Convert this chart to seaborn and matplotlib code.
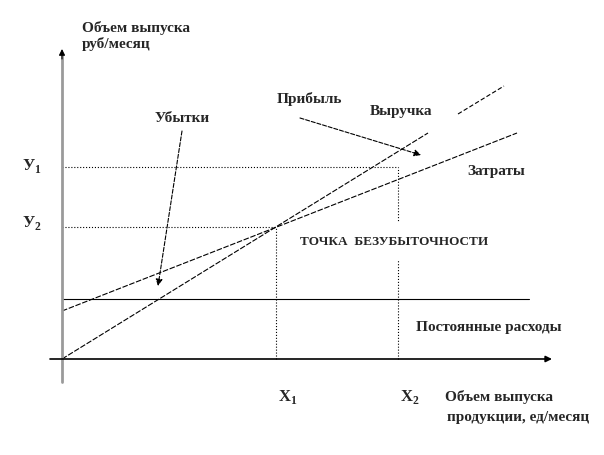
import matplotlib
matplotlib.use("Agg")
import matplotlib.pyplot as plt
import seaborn as sns
import pandas as pd

# break-even chart, units = picture pixels measured from the origin
revenue_x = [0, 366]
revenue_y = [0, 226]
revenue_tail_x = [396, 442]
revenue_tail_y = [245, 273]
costs_x = [0, 455]
costs_y = [48, 226]
fixed_x = [0, 467]
fixed_y = [60, 60]
x1, x2 = 214, 336
y1, y2 = 192, 132

sns.set_style("white")
plt.rcParams["font.family"] = ["Liberation Serif", "DejaVu Serif"]
plt.rcParams["font.weight"] = "bold"
plt.rcParams["mathtext.fontset"] = "custom"
plt.rcParams["mathtext.rm"] = "Liberation Serif:bold"
plt.rcParams["mathtext.bf"] = "Liberation Serif:bold"

fig = plt.figure(figsize=(6.04, 4.56), dpi=100)
ax = fig.add_axes([0, 0, 1, 1])
ax.set_xlim(-62, 542)
ax.set_ylim(-96, 360)
ax.axis("off")

df = pd.DataFrame({
    "x": revenue_x + costs_x + fixed_x,
    "y": revenue_y + costs_y + fixed_y,
    "line": ["Выручка"] * 2 + ["Затраты"] * 2 + ["Постоянные"] * 2,
})
sns.lineplot(data=df, x="x", y="y", hue="line", style="line",
             palette=["black"] * 3, dashes=[(5, 1.5), (5, 1.5), ""],
             linewidth=0.8, legend=False, ax=ax, estimator=None)
ax.plot(revenue_tail_x, revenue_tail_y, color="black", lw=0.8, dashes=(4, 2))

# axes with arrows
ax.annotate("", xy=(490, 0), xytext=(-12, 0),
            arrowprops=dict(arrowstyle="-|>", color="black", lw=1.2,
                            mutation_scale=9, shrinkA=0, shrinkB=0))
ax.plot([0, 0], [-23, 305], color="#9a9a9a", lw=2)
ax.annotate("", xy=(0, 310), xytext=(0, 300),
            arrowprops=dict(arrowstyle="-|>", color="black", lw=0.8,
                            mutation_scale=9, shrinkA=0, shrinkB=0))

# guide lines
ax.plot([0, x2], [y1, y1], color="black", lw=0.8, ls=":", zorder=1)
ax.plot([0, x1], [y2, y2], color="black", lw=0.8, ls=":", zorder=1)
ax.plot([x1, x1], [0, y2], color="black", lw=0.8, ls=":", zorder=1)
ax.plot([x2, x2], [0, y1], color="black", lw=0.8, ls=":", zorder=1)

# pointers
ax.annotate("", xy=(96, 73), xytext=(120, 228),
            arrowprops=dict(arrowstyle="-|>", color="black", lw=0.8, ls="--",
                            mutation_scale=10, shrinkA=0, shrinkB=0))
ax.annotate("", xy=(359, 204), xytext=(238, 241),
            arrowprops=dict(arrowstyle="-|>", color="black", lw=0.8, ls="--",
                            mutation_scale=10, shrinkA=0, shrinkB=0))

fs = 11
ax.text(20, 324, "Объем выпуска\nруб/месяц", fontsize=fs, ha="left", va="center",
        linespacing=1.1)
ax.text(93, 242, "Убытки", fontsize=fs, ha="left", va="center")
ax.text(215, 261, "Прибыль", fontsize=fs, ha="left", va="center")
ax.text(308, 248, "Выручка", fontsize=fs, ha="left", va="center")
ax.text(405, 188, "Затраты", fontsize=fs, ha="left", va="center")
ax.text(238, 118, "ТОЧКА  БЕЗУБЫТОЧНОСТИ", fontsize=9.5, ha="left", va="center",
        zorder=1.5, bbox=dict(facecolor="white", edgecolor="none", pad=9))
ax.text(354, 32, "Постоянные расходы", fontsize=fs, ha="left", va="center")
ax.text(-40, 194, r"У$_\mathbf{1}$", fontsize=fs + 1, ha="left", va="center")
ax.text(-40, 137, r"У$_\mathbf{2}$", fontsize=fs + 1, ha="left", va="center")
ax.text(216, -37, r"X$_\mathbf{1}$", fontsize=fs + 1, ha="left", va="center")
ax.text(338, -37, r"X$_\mathbf{2}$", fontsize=fs + 1, ha="left", va="center")
ax.text(383, -37, "Объем выпуска", fontsize=fs, ha="left", va="center")
ax.text(385, -58, "продукции, ед/месяц", fontsize=fs, ha="left", va="center")

fig.savefig("out.png", dpi=100)
